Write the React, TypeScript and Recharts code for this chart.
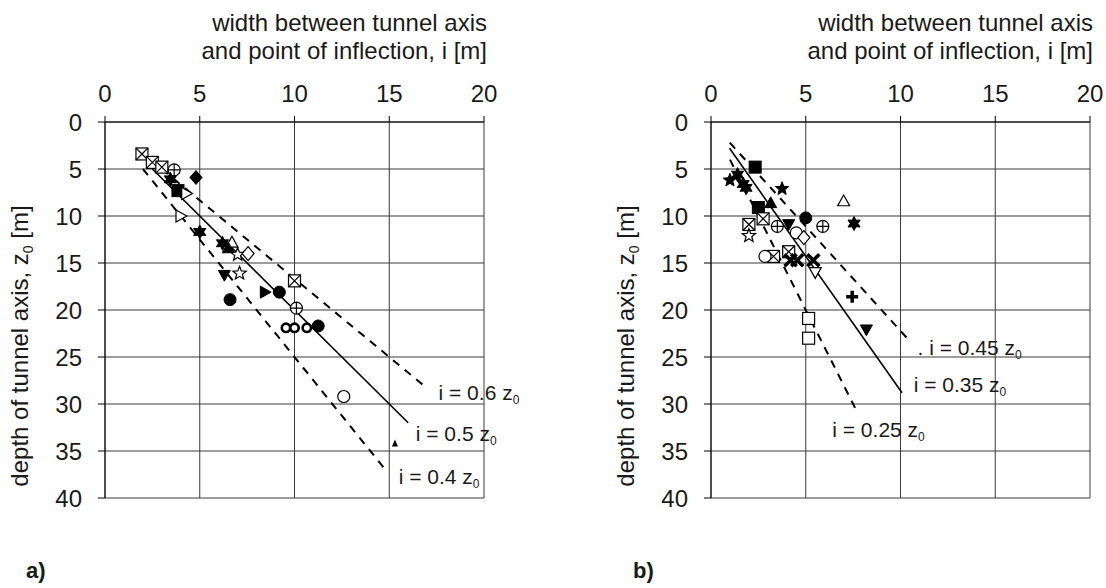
import * as React from "react";
import {
  ScatterChart,
  Scatter,
  XAxis,
  YAxis,
  CartesianGrid,
  ReferenceLine,
  ReferenceDot,
  Label,
} from "recharts";

type Pt = { i: number; z: number };
type Kind =
  | "sqx" | "sq" | "sqf" | "circ" | "circf" | "cplus" | "ring"
  | "dia" | "diao" | "trio" | "trif" | "trid" | "trido" | "trir" | "trirf"
  | "star" | "staro" | "ast" | "cross" | "plus";

const FONT = "'Liberation Sans', Arial, Helvetica, sans-serif";
const INK = "#1a1a1a";

const xTicks = [0, 5, 10, 15, 20];
const yTicks = [0, 5, 10, 15, 20, 25, 30, 35, 40];

// ---- panel a) markers (i [m], z0 [m])
const aSquareX: Pt[] = [{ i: 1.95, z: 3.4 }, { i: 2.5, z: 4.3 }, { i: 3.0, z: 4.8 }, { i: 10.0, z: 16.9 }];
const aCirclePlus: Pt[] = [{ i: 3.65, z: 5.1 }, { i: 10.1, z: 19.8 }];
const aFilledSquare: Pt[] = [{ i: 3.85, z: 7.3 }];
const aOpenRight: Pt[] = [{ i: 4.3, z: 7.6 }, { i: 4.0, z: 10.0 }];
const aDiamond: Pt[] = [{ i: 4.8, z: 5.9 }];
const aAsterisk: Pt[] = [{ i: 3.45, z: 6.1 }, { i: 5.0, z: 11.7 }, { i: 6.2, z: 12.9 }];
const aFilledUp: Pt[] = [{ i: 6.5, z: 13.4 }];
const aSmallUp: Pt[] = [{ i: 15.3, z: 34.2 }];
const aOpenUp: Pt[] = [{ i: 6.7, z: 12.8 }];
const aOpenStar: Pt[] = [{ i: 7.0, z: 14.1 }, { i: 7.1, z: 16.1 }];
const aOpenDiamond: Pt[] = [{ i: 7.55, z: 14.0 }];
const aFilledDown: Pt[] = [{ i: 6.3, z: 16.3 }];
const aFilledCircle: Pt[] = [{ i: 6.6, z: 18.9 }, { i: 9.2, z: 18.1 }, { i: 11.25, z: 21.7 }];
const aFilledRight: Pt[] = [{ i: 8.45, z: 18.1 }];
const aRing: Pt[] = [{ i: 9.55, z: 21.9 }, { i: 10.0, z: 21.9 }, { i: 10.65, z: 21.9 }];
const aOpenCircle: Pt[] = [{ i: 12.6, z: 29.2 }];

// ---- panel b) markers
const bFilledSquare: Pt[] = [{ i: 2.33, z: 4.8 }, { i: 2.5, z: 9.1 }];
const bStar: Pt[] = [{ i: 1.0, z: 6.2 }, { i: 3.75, z: 7.1 }];
const bAsterisk: Pt[] = [{ i: 1.4, z: 5.6 }, { i: 1.7, z: 6.6 }, { i: 1.85, z: 7.0 }, { i: 7.55, z: 10.8 }];
const bOpenUp: Pt[] = [{ i: 7.0, z: 8.4 }];
const bFilledUp: Pt[] = [{ i: 3.15, z: 8.6 }];
const bSquareX: Pt[] = [{ i: 2.75, z: 10.3 }, { i: 2.0, z: 10.9 }, { i: 3.3, z: 14.3 }, { i: 4.1, z: 13.8 }];
const bOpenStar: Pt[] = [{ i: 2.0, z: 12.1 }];
const bCirclePlus: Pt[] = [{ i: 3.5, z: 11.1 }, { i: 5.9, z: 11.1 }];
const bFilledCircle: Pt[] = [{ i: 5.0, z: 10.2 }];
const bFilledDown: Pt[] = [{ i: 4.1, z: 10.9 }, { i: 8.2, z: 22.1 }];
const bOpenCircle: Pt[] = [{ i: 4.5, z: 11.8 }, { i: 2.85, z: 14.3 }];
const bOpenDiamond: Pt[] = [{ i: 4.9, z: 12.3 }];
const bCross: Pt[] = [{ i: 4.2, z: 14.7 }, { i: 4.55, z: 14.7 }, { i: 5.4, z: 14.7 }];
const bOpenDown: Pt[] = [{ i: 5.5, z: 16.0 }];
const bPlus: Pt[] = [{ i: 7.45, z: 18.6 }];
const bOpenSquare: Pt[] = [{ i: 5.15, z: 20.9 }, { i: 5.15, z: 23.0 }];

// i = k * z0 reference lines: k, z range, dashed, label text and label anchor
type Rel = { k: number; from: number; to: number; dashed: boolean; text: string; at: Pt };
const aLines: Rel[] = [
  { k: 0.6, from: 5, to: 28.2, dashed: true, text: "i = 0.6 z", at: { i: 17.6, z: 28.8 } },
  { k: 0.5, from: 5, to: 32, dashed: false, text: "i = 0.5 z", at: { i: 16.4, z: 33.2 } },
  { k: 0.4, from: 5, to: 37, dashed: true, text: "i = 0.4 z", at: { i: 15.5, z: 37.8 } },
];
const bLines: Rel[] = [
  { k: 0.45, from: 2.2, to: 23.2, dashed: true, text: ". i = 0.45 z", at: { i: 10.9, z: 24.0 } },
  { k: 0.35, from: 2.8, to: 28.8, dashed: false, text: "i = 0.35 z", at: { i: 10.7, z: 28.0 } },
  { k: 0.25, from: 4, to: 31, dashed: true, text: "i = 0.25 z", at: { i: 6.4, z: 32.8 } },
];

function starPts(cx: number, cy: number, n: number, ro: number, ri: number) {
  const out: string[] = [];
  for (let k = 0; k < n * 2; k++) {
    const r = k % 2 === 0 ? ro : ri;
    const a = -Math.PI / 2 + (k * Math.PI) / n;
    out.push(`${cx + r * Math.cos(a)},${cy + r * Math.sin(a)}`);
  }
  return out.join(" ");
}

function Marker({ cx, cy, kind }: { cx: number; cy: number; kind: Kind }) {
  const s = 6;
  const o = { fill: "#fff", stroke: "#000", strokeWidth: 1.2 };
  const f = { fill: "#000", stroke: "#000", strokeWidth: 1 };
  switch (kind) {
    case "sqx":
      return (
        <g>
          <rect x={cx - s} y={cy - s} width={2 * s} height={2 * s} {...o} />
          <path d={`M${cx - s},${cy - s}L${cx + s},${cy + s}M${cx + s},${cy - s}L${cx - s},${cy + s}`} stroke="#000" strokeWidth={1.2} />
        </g>
      );
    case "sq":
      return <rect x={cx - s} y={cy - s} width={2 * s} height={2 * s} {...o} />;
    case "sqf":
      return <rect x={cx - s} y={cy - s} width={2 * s} height={2 * s} {...f} />;
    case "circ":
      return <circle cx={cx} cy={cy} r={s} {...o} />;
    case "circf":
      return <circle cx={cx} cy={cy} r={s} {...f} />;
    case "cplus":
      return (
        <g>
          <circle cx={cx} cy={cy} r={s} {...o} />
          <path d={`M${cx - s},${cy}L${cx + s},${cy}M${cx},${cy - s}L${cx},${cy + s}`} stroke="#000" strokeWidth={1.2} />
        </g>
      );
    case "ring":
      return <circle cx={cx} cy={cy} r={4.2} fill="#fff" stroke="#000" strokeWidth={2.6} />;
    case "dia":
      return <polygon points={`${cx},${cy - s - 1} ${cx + s},${cy} ${cx},${cy + s + 1} ${cx - s},${cy}`} {...f} />;
    case "diao":
      return <polygon points={`${cx},${cy - s - 1} ${cx + s},${cy} ${cx},${cy + s + 1} ${cx - s},${cy}`} {...o} />;
    case "trio":
      return <polygon points={`${cx},${cy - s} ${cx + s},${cy + s * 0.8} ${cx - s},${cy + s * 0.8}`} {...o} />;
    case "trif":
      return <polygon points={`${cx},${cy - s} ${cx + s},${cy + s * 0.8} ${cx - s},${cy + s * 0.8}`} {...f} />;
    case "trid":
      return <polygon points={`${cx},${cy + s} ${cx + s},${cy - s * 0.8} ${cx - s},${cy - s * 0.8}`} {...f} />;
    case "trido":
      return <polygon points={`${cx},${cy + s} ${cx + s},${cy - s * 0.8} ${cx - s},${cy - s * 0.8}`} {...o} />;
    case "trir":
      return <polygon points={`${cx + s},${cy} ${cx - s * 0.8},${cy - s} ${cx - s * 0.8},${cy + s}`} {...o} />;
    case "trirf":
      return <polygon points={`${cx + s},${cy} ${cx - s * 0.8},${cy - s} ${cx - s * 0.8},${cy + s}`} {...f} />;
    case "star":
      return <polygon points={starPts(cx, cy, 5, 7, 3)} {...f} />;
    case "staro":
      return <polygon points={starPts(cx, cy, 5, 7, 3)} {...o} />;
    case "ast":
      return <polygon points={starPts(cx, cy, 6, 7, 3.8)} {...f} />;
    case "cross":
      return (
        <path d={`M${cx - s},${cy - s}L${cx + s},${cy + s}M${cx + s},${cy - s}L${cx - s},${cy + s}`} stroke="#000" strokeWidth={3.5} />
      );
    case "plus":
      return (
        <path d={`M${cx - s},${cy}L${cx + s},${cy}M${cx},${cy - s}L${cx},${cy + s}`} stroke="#000" strokeWidth={3.5} />
      );
  }
  return null;
}

type Series = { kind: Kind; data: Pt[] };

const aSeries: Series[] = [
  { kind: "sqx", data: aSquareX },
  { kind: "cplus", data: aCirclePlus },
  { kind: "sqf", data: aFilledSquare },
  { kind: "trir", data: aOpenRight },
  { kind: "dia", data: aDiamond },
  { kind: "ast", data: aAsterisk },
  { kind: "trio", data: aOpenUp },
  { kind: "trif", data: aFilledUp },
  { kind: "staro", data: aOpenStar },
  { kind: "diao", data: aOpenDiamond },
  { kind: "trid", data: aFilledDown },
  { kind: "circf", data: aFilledCircle },
  { kind: "trirf", data: aFilledRight },
  { kind: "ring", data: aRing },
  { kind: "circ", data: aOpenCircle },
];

const bSeries: Series[] = [
  { kind: "ast", data: bAsterisk },
  { kind: "star", data: bStar },
  { kind: "sqf", data: bFilledSquare },
  { kind: "trio", data: bOpenUp },
  { kind: "trif", data: bFilledUp },
  { kind: "sqx", data: bSquareX },
  { kind: "staro", data: bOpenStar },
  { kind: "cplus", data: bCirclePlus },
  { kind: "circ", data: bOpenCircle },
  { kind: "diao", data: bOpenDiamond },
  { kind: "circf", data: bFilledCircle },
  { kind: "trid", data: bFilledDown },
  { kind: "cross", data: bCross },
  { kind: "trido", data: bOpenDown },
  { kind: "plus", data: bPlus },
  { kind: "sq", data: bOpenSquare },
];

const PLOT_TOP = 122;
const PLOT_LEFT = 105;
const PLOT_RIGHT = 484;
const PLOT_BOTTOM = 498;
const H = 588;

function Panel({ left, width, series, lines, small }: { left: number; width: number; series: Series[]; lines: Rel[]; small: Pt[] }) {
  return (
    <div style={{ position: "absolute", left, top: 0, width, height: H }}>
      <ScatterChart
        width={width}
        height={H}
        margin={{ top: PLOT_TOP - 40, left: PLOT_LEFT - 40, right: width - PLOT_RIGHT, bottom: H - PLOT_BOTTOM }}
      >
        <CartesianGrid stroke="#3a3a3a" strokeWidth={1} />
        <XAxis
          type="number"
          dataKey="i"
          domain={[0, 20]}
          ticks={xTicks}
          interval={0}
          orientation="top"
          height={40}
          allowDataOverflow
          axisLine={{ stroke: "#000" }}
          tickLine={{ stroke: "#000" }}
          tickSize={6}
          tickMargin={14}
          tick={{ fontSize: 24, fill: INK, fontFamily: FONT }}
        >
          <Label
            content={() => (
              <text fontFamily={FONT} fontSize={24} fill={INK} textAnchor="end">
                <tspan x={PLOT_RIGHT + 3} y={31}>width between tunnel axis</tspan>
                <tspan x={PLOT_RIGHT + 3} y={59}>and point of inflection, i [m]</tspan>
              </text>
            )}
          />
        </XAxis>
        <YAxis
          type="number"
          dataKey="z"
          domain={[0, 40]}
          ticks={yTicks}
          interval={0}
          reversed
          width={40}
          allowDataOverflow
          axisLine={{ stroke: "#000" }}
          tickLine={{ stroke: "#000" }}
          tickSize={7}
          tickMargin={16}
          tick={{ fontSize: 24, fill: INK, fontFamily: FONT }}
        >
          <Label
            content={() => (
              <text
                fontFamily={FONT}
                fontSize={24}
                fill={INK}
                textAnchor="middle"
                transform={`translate(28, 346) rotate(-90)`}
              >
                depth of tunnel axis, z
                <tspan fontSize={14} dy={5}>0</tspan>
                <tspan dy={-5}> [m]</tspan>
              </text>
            )}
          />
        </YAxis>
        {lines.map((l, n) => (
          <ReferenceLine
            key={"l" + n}
            segment={[
              { x: l.k * l.from, y: l.from },
              { x: l.k * l.to, y: l.to },
            ]}
            stroke="#000"
            strokeWidth={l.dashed ? 2 : 1.6}
            strokeDasharray={l.dashed ? "8 7" : undefined}
            ifOverflow="visible"
          />
        ))}
        {series.map((s, n) => (
          <Scatter
            key={"s" + n}
            data={s.data}
            isAnimationActive={false}
            shape={(p: any) => <Marker cx={p.cx} cy={p.cy} kind={s.kind} />}
          />
        ))}
        <Scatter
          data={small}
          isAnimationActive={false}
          shape={(p: any) => (
            <polygon points={`${p.cx},${p.cy - 4} ${p.cx + 3},${p.cy + 3} ${p.cx - 3},${p.cy + 3}`} fill="#000" />
          )}
        />
        {lines.map((l, n) => (
          <ReferenceDot
            key={"t" + n}
            x={l.at.i}
            y={l.at.z}
            r={0}
            ifOverflow="visible"
            shape={(p: any) => (
              <text x={p.cx} y={p.cy + 7} fontFamily={FONT} fontSize={21} fill={INK}>
                {l.text}
                <tspan fontSize={12} dy={4}>0</tspan>
              </text>
            )}
          />
        ))}
      </ScatterChart>
    </div>
  );
}

export default function App() {
  const letter: React.CSSProperties = {
    position: "absolute",
    top: 558,
    fontFamily: FONT,
    fontSize: 22,
    fontWeight: "bold",
    color: INK,
  };
  return (
    <div style={{ position: "absolute", left: 0, top: 0, width: 1106, height: H, background: "#fff" }}>
      <Panel left={0} width={606} series={aSeries} lines={aLines} small={aSmallUp} />
      <Panel left={606} width={500} series={bSeries} lines={bLines} small={[]} />
      <div style={{ ...letter, left: 26 }}>a)</div>
      <div style={{ ...letter, left: 633 }}>b)</div>
    </div>
  );
}
